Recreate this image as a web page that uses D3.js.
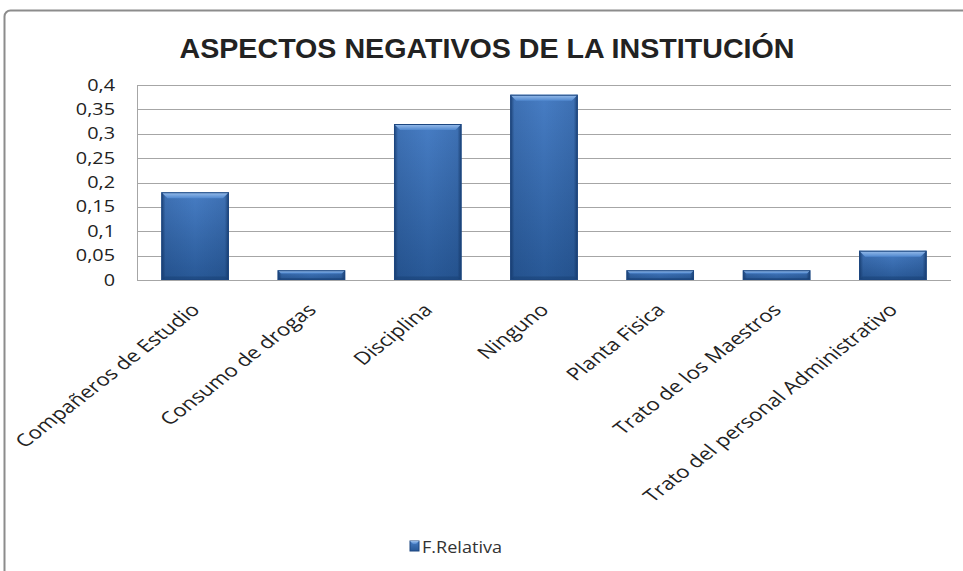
<!DOCTYPE html>
<html>
<head>
<meta charset="utf-8">
<script src="https://cdn.jsdelivr.net/npm/d3@7"></script>
<style>
  body { margin: 0; background: #fff; }
  svg { display: block; }
  text { font-family: "Open Sans", "DejaVu Sans", sans-serif; fill: #222; }
</style>
</head>
<body>
<div id="chart"></div>
<script>
// data
var categories = ["Compañeros de Estudio", "Consumo de drogas", "Disciplina", "Ninguno",
                  "Planta Fisica", "Trato de los Maestros", "Trato del personal Administrativo"];
var relativa = [0.18, 0.02, 0.32, 0.38, 0.02, 0.02, 0.06];
var yTicks = [0, 0.05, 0.1, 0.15, 0.2, 0.25, 0.3, 0.35, 0.4];
var seriesName = "F.Relativa";
var title = "ASPECTOS NEGATIVOS DE LA INSTITUCIÓN";

var svgWidth = 963, svgHeight = 571;
var margin = { top: 85, right: 12, bottom: 290, left: 137 };
var width = svgWidth - margin.left - margin.right;
var height = svgHeight - margin.top - margin.bottom - 1;
var stretch = 1.28; // the picture is a bit wider than tall

var svg = d3.select("#chart").append("svg")
    .attr("width", svgWidth).attr("height", svgHeight);

// chart border
svg.append("rect")
    .attr("x", 4.5).attr("y", 10.5)
    .attr("width", 1000).attr("height", 700)
    .attr("rx", 6)
    .attr("fill", "none").attr("stroke", "#8c8c8c").attr("stroke-width", 2);

var defs = svg.append("defs");
var grad = defs.append("linearGradient").attr("id", "barGrad")
    .attr("x1", "0%").attr("x2", "0%").attr("y1", "0%").attr("y2", "100%");
grad.append("stop").attr("offset", "0%").attr("stop-color", "#477dc4");
grad.append("stop").attr("offset", "100%").attr("stop-color", "#285896");

var sideGrad = defs.append("linearGradient").attr("id", "sideGrad")
    .attr("x1", "0%").attr("x2", "100%").attr("y1", "0%").attr("y2", "0%");
sideGrad.append("stop").attr("offset", "0%").attr("stop-color", "#0f2f5c").attr("stop-opacity", 0.75);
sideGrad.append("stop").attr("offset", "6%").attr("stop-color", "#0f2f5c").attr("stop-opacity", 0.15);
sideGrad.append("stop").attr("offset", "50%").attr("stop-color", "#0f2f5c").attr("stop-opacity", 0);
sideGrad.append("stop").attr("offset", "94%").attr("stop-color", "#0f2f5c").attr("stop-opacity", 0.15);
sideGrad.append("stop").attr("offset", "100%").attr("stop-color", "#0f2f5c").attr("stop-opacity", 0.75);

var topGrad = defs.append("linearGradient").attr("id", "topGrad")
    .attr("x1", "0%").attr("x2", "0%").attr("y1", "0%").attr("y2", "100%");
topGrad.append("stop").attr("offset", "0%").attr("stop-color", "#9cc0ec");
topGrad.append("stop").attr("offset", "100%").attr("stop-color", "#5088cf");

// title
svg.append("text")
    .attr("x", 487).attr("y", 58)
    .attr("text-anchor", "middle")
    .attr("textLength", 615).attr("lengthAdjust", "spacingAndGlyphs")
    .style("font-family", "'Liberation Sans Narrow', 'Liberation Sans', sans-serif")
    .style("font-weight", "bold").style("font-size", "28px")
    .text(title);

var chartGroup = svg.append("g").attr("transform", `translate(${margin.left}, ${margin.top})`);

var x = d3.scaleBand().domain(categories).range([0, width])
    .paddingInner(0.42).paddingOuter(0.21);
var y = d3.scaleLinear().domain([0, 0.4]).range([height, 0]);

// gridlines
chartGroup.selectAll(".grid").data(yTicks).enter().append("line")
    .attr("x1", 0).attr("x2", width)
    .attr("y1", d => Math.round(y(d)) + 0.5).attr("y2", d => Math.round(y(d)) + 0.5)
    .attr("stroke", "#a6a6a6").attr("stroke-width", 1);

// y axis line
chartGroup.append("line")
    .attr("x1", 0.5).attr("x2", 0.5).attr("y1", 0).attr("y2", height)
    .attr("stroke", "#a6a6a6");

// y tick labels
var fmt = d3.format(".2~f");
chartGroup.selectAll(".ytick").data(yTicks).enter().append("text")
    .attr("transform", d => `translate(-22, ${y(d) + 5.5}) scale(${stretch},1)`)
    .attr("text-anchor", "end")
    .style("font-size", "15.5px")
    .text(d => fmt(d).replace(".", ","));

// bars
var bars = chartGroup.selectAll(".bar").data(relativa).enter().append("g");
bars.each(function(d, i) {
    var g = d3.select(this);
    var x0 = x(categories[i]), bw = x.bandwidth();
    var y0 = y(d), h = y(0) - y(d);
    var b = Math.min(6, h / 3);
    g.append("rect").attr("x", x0).attr("y", y0).attr("width", bw).attr("height", h)
        .attr("fill", "url(#barGrad)");
    g.append("rect").attr("x", x0).attr("y", y0).attr("width", bw).attr("height", h)
        .attr("fill", "url(#sideGrad)");
    // top bevel
    g.append("polygon")
        .attr("points", [[x0, y0], [x0 + bw, y0], [x0 + bw - b, y0 + b], [x0 + b, y0 + b]].join(" "))
        .attr("fill", "url(#topGrad)");
    // bottom bevel
    g.append("polygon")
        .attr("points", [[x0, y0 + h], [x0 + bw, y0 + h], [x0 + bw - b * 0.6, y0 + h - b * 0.6], [x0 + b * 0.6, y0 + h - b * 0.6]].join(" "))
        .attr("fill", "#173d70").attr("opacity", 0.45);
    g.append("rect").attr("x", x0 + 0.5).attr("y", y0 + 0.5).attr("width", bw - 1).attr("height", Math.max(0, h - 1))
        .attr("fill", "none").attr("stroke", "#1d4780").attr("stroke-width", 1);
});

// x labels
chartGroup.selectAll(".xlabel").data(categories).enter().append("text")
    .attr("transform", d => `translate(${x(d) + x.bandwidth() / 2 + 6}, ${height + 31}) scale(${stretch},1) rotate(-45)`)
    .attr("text-anchor", "end")
    .style("font-size", "17.5px")
    .text(d => d);

// legend
var legend = svg.append("g").attr("transform", "translate(410, 541)");
legend.append("rect").attr("x", 0).attr("y", 0).attr("width", 9).attr("height", 10)
    .attr("fill", "url(#barGrad)").attr("stroke", "#1d4780");
legend.append("polygon").attr("points", "0,0 9,0 6,3 3,3").attr("fill", "url(#topGrad)");
legend.append("text")
    .attr("x", 12).attr("y", 12)
    .attr("textLength", 80).attr("lengthAdjust", "spacingAndGlyphs")
    .style("font-size", "17px").style("fill", "#333")
    .text(seriesName);
</script>
</body>
</html>
